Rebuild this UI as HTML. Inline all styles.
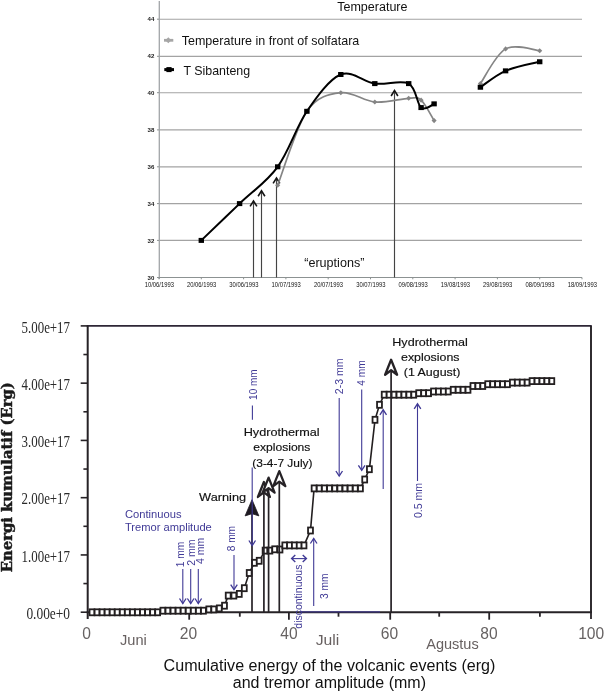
<!DOCTYPE html>
<html><head><meta charset="utf-8"><title>Temperature and cumulative energy</title><style>
html,body{margin:0;padding:0;background:#fff;overflow:hidden;}
svg{display:block;}
text{font-family:"Liberation Sans",Arial,sans-serif;}
.yt{font-size:5.6px;fill:#1a1a1a;font-weight:bold;}
.xt{font-size:5.8px;fill:#111;}
.lg{font-size:12.5px;fill:#111;}
.yl{font-family:"Liberation Serif","Times New Roman",serif;font-size:13px;fill:#2a2a2a;}
.xl{font-size:15.6px;fill:#666262;}
.mo{font-size:15px;fill:#676060;}
.tt{font-size:16px;fill:#111;}
.yt2{font-family:"DejaVu Serif",serif;font-weight:bold;font-size:14.5px;fill:#1a1a1a;stroke:#1a1a1a;stroke-width:0.45px;}
.bl{font-size:11px;fill:#403a96;}
.bt{font-size:10.3px;fill:#403a96;}
.an{font-size:12.3px;fill:#111;stroke:#111;stroke-width:0.18px;}
</style></head><body>
<svg width="610" height="692" viewBox="0 0 610 692">
<rect width="610" height="692" fill="#fff"/>
<line x1="159" y1="240.4" x2="582" y2="240.4" stroke="#a3a3a3" stroke-width="1.15"/>
<line x1="159" y1="203.6" x2="582" y2="203.6" stroke="#a3a3a3" stroke-width="1.15"/>
<line x1="159" y1="166.8" x2="582" y2="166.8" stroke="#a3a3a3" stroke-width="1.15"/>
<line x1="159" y1="129.9" x2="582" y2="129.9" stroke="#a3a3a3" stroke-width="1.15"/>
<line x1="159" y1="92.7" x2="582" y2="92.7" stroke="#a3a3a3" stroke-width="1.15"/>
<line x1="159" y1="56.3" x2="582" y2="56.3" stroke="#a3a3a3" stroke-width="1.15"/>
<line x1="159" y1="19.2" x2="582" y2="19.2" stroke="#a3a3a3" stroke-width="1.15"/>
<line x1="159.3" y1="1" x2="159.3" y2="279" stroke="#a2a5a8" stroke-width="1.3"/>
<line x1="157" y1="277.5" x2="582" y2="277.5" stroke="#8c9292" stroke-width="1.1"/>
<line x1="157" y1="277.5" x2="159" y2="277.5" stroke="#8c9292" stroke-width="1"/>
<text transform="translate(154.3 279.6)" class="yt" text-anchor="end" textLength="6.8" lengthAdjust="spacingAndGlyphs">30</text>
<line x1="157" y1="240.4" x2="159" y2="240.4" stroke="#8c9292" stroke-width="1"/>
<text transform="translate(154.3 242.5)" class="yt" text-anchor="end" textLength="6.8" lengthAdjust="spacingAndGlyphs">32</text>
<line x1="157" y1="203.6" x2="159" y2="203.6" stroke="#8c9292" stroke-width="1"/>
<text transform="translate(154.3 205.7)" class="yt" text-anchor="end" textLength="6.8" lengthAdjust="spacingAndGlyphs">34</text>
<line x1="157" y1="166.8" x2="159" y2="166.8" stroke="#8c9292" stroke-width="1"/>
<text transform="translate(154.3 168.9)" class="yt" text-anchor="end" textLength="6.8" lengthAdjust="spacingAndGlyphs">36</text>
<line x1="157" y1="129.9" x2="159" y2="129.9" stroke="#8c9292" stroke-width="1"/>
<text transform="translate(154.3 132)" class="yt" text-anchor="end" textLength="6.8" lengthAdjust="spacingAndGlyphs">38</text>
<line x1="157" y1="92.7" x2="159" y2="92.7" stroke="#8c9292" stroke-width="1"/>
<text transform="translate(154.3 94.8)" class="yt" text-anchor="end" textLength="6.8" lengthAdjust="spacingAndGlyphs">40</text>
<line x1="157" y1="56.3" x2="159" y2="56.3" stroke="#8c9292" stroke-width="1"/>
<text transform="translate(154.3 58.4)" class="yt" text-anchor="end" textLength="6.8" lengthAdjust="spacingAndGlyphs">42</text>
<line x1="157" y1="19.2" x2="159" y2="19.2" stroke="#8c9292" stroke-width="1"/>
<text transform="translate(154.3 21.3)" class="yt" text-anchor="end" textLength="6.8" lengthAdjust="spacingAndGlyphs">44</text>
<line x1="159" y1="277.5" x2="159" y2="279.3" stroke="#8c9292" stroke-width="1"/>
<text transform="translate(159.3 287) scale(1 1.1)" class="xt" text-anchor="middle" textLength="29.2" lengthAdjust="spacingAndGlyphs">10/06/1993</text>
<line x1="201.3" y1="277.5" x2="201.3" y2="279.3" stroke="#8c9292" stroke-width="1"/>
<text transform="translate(201.6 287) scale(1 1.1)" class="xt" text-anchor="middle" textLength="29.2" lengthAdjust="spacingAndGlyphs">20/06/1993</text>
<line x1="243.6" y1="277.5" x2="243.6" y2="279.3" stroke="#8c9292" stroke-width="1"/>
<text transform="translate(243.9 287) scale(1 1.1)" class="xt" text-anchor="middle" textLength="29.2" lengthAdjust="spacingAndGlyphs">30/06/1993</text>
<line x1="285.9" y1="277.5" x2="285.9" y2="279.3" stroke="#8c9292" stroke-width="1"/>
<text transform="translate(286.2 287) scale(1 1.1)" class="xt" text-anchor="middle" textLength="29.2" lengthAdjust="spacingAndGlyphs">10/07/1993</text>
<line x1="328.2" y1="277.5" x2="328.2" y2="279.3" stroke="#8c9292" stroke-width="1"/>
<text transform="translate(328.5 287) scale(1 1.1)" class="xt" text-anchor="middle" textLength="29.2" lengthAdjust="spacingAndGlyphs">20/07/1993</text>
<line x1="370.5" y1="277.5" x2="370.5" y2="279.3" stroke="#8c9292" stroke-width="1"/>
<text transform="translate(370.8 287) scale(1 1.1)" class="xt" text-anchor="middle" textLength="29.2" lengthAdjust="spacingAndGlyphs">30/07/1993</text>
<line x1="412.8" y1="277.5" x2="412.8" y2="279.3" stroke="#8c9292" stroke-width="1"/>
<text transform="translate(413.1 287) scale(1 1.1)" class="xt" text-anchor="middle" textLength="29.2" lengthAdjust="spacingAndGlyphs">09/08/1993</text>
<line x1="455.1" y1="277.5" x2="455.1" y2="279.3" stroke="#8c9292" stroke-width="1"/>
<text transform="translate(455.4 287) scale(1 1.1)" class="xt" text-anchor="middle" textLength="29.2" lengthAdjust="spacingAndGlyphs">19/08/1993</text>
<line x1="497.4" y1="277.5" x2="497.4" y2="279.3" stroke="#8c9292" stroke-width="1"/>
<text transform="translate(497.7 287) scale(1 1.1)" class="xt" text-anchor="middle" textLength="29.2" lengthAdjust="spacingAndGlyphs">29/08/1993</text>
<line x1="539.7" y1="277.5" x2="539.7" y2="279.3" stroke="#8c9292" stroke-width="1"/>
<text transform="translate(540 287) scale(1 1.1)" class="xt" text-anchor="middle" textLength="29.2" lengthAdjust="spacingAndGlyphs">08/09/1993</text>
<line x1="582" y1="277.5" x2="582" y2="279.3" stroke="#8c9292" stroke-width="1"/>
<text transform="translate(582.3 287) scale(1 1.1)" class="xt" text-anchor="middle" textLength="29.2" lengthAdjust="spacingAndGlyphs">18/09/1993</text>
<line x1="253.5" y1="201.5" x2="253.5" y2="277.5" stroke="#444" stroke-width="1.15"/><polyline points="250.1,206.4 253.5,201 256.9,206.4" fill="none" stroke="#151515" stroke-width="1.6"/>
<line x1="261.5" y1="191.3" x2="261.5" y2="277.5" stroke="#444" stroke-width="1.15"/><polyline points="258.1,196.2 261.5,190.8 264.9,196.2" fill="none" stroke="#151515" stroke-width="1.6"/>
<line x1="276.5" y1="178.5" x2="276.5" y2="277.5" stroke="#444" stroke-width="1.15"/><polyline points="273.1,183.4 276.5,178 279.9,183.4" fill="none" stroke="#151515" stroke-width="1.6"/>
<line x1="394.5" y1="91.05" x2="394.5" y2="277.5" stroke="#444" stroke-width="1.15"/><polyline points="391.1,95.95 394.5,90.55 397.9,95.95" fill="none" stroke="#151515" stroke-width="1.6"/>
<path d="M277.7,185.2 C282.57,172.88 296.38,126.72 306.9,111.3 C317.42,95.88 329.48,94.25 340.8,92.7 C352.12,91.15 363.48,101.07 374.8,102 C386.12,102.93 400.98,98.59 408.7,98.28 C416.42,97.97 416.87,96.42 421.1,100.14 C425.33,103.86 431.93,117.19 434.1,120.6" fill="none" stroke="#858585" stroke-width="1.7"/>
<rect x="275.9" y="183.4" width="3.6" height="3.6" fill="#858585" transform="rotate(45 277.7 185.2)"/>
<rect x="305.1" y="109.5" width="3.6" height="3.6" fill="#858585" transform="rotate(45 306.9 111.3)"/>
<rect x="339" y="90.9" width="3.6" height="3.6" fill="#858585" transform="rotate(45 340.8 92.7)"/>
<rect x="373" y="100.2" width="3.6" height="3.6" fill="#858585" transform="rotate(45 374.8 102)"/>
<rect x="406.9" y="96.48" width="3.6" height="3.6" fill="#858585" transform="rotate(45 408.7 98.28)"/>
<rect x="419.3" y="98.34" width="3.6" height="3.6" fill="#858585" transform="rotate(45 421.1 100.14)"/>
<rect x="432.3" y="118.8" width="3.6" height="3.6" fill="#858585" transform="rotate(45 434.1 120.6)"/>
<path d="M480.4,83.6 C484.6,77.81 495.72,54.36 505.6,48.88 C515.48,43.4 534.02,50.43 539.7,50.74" fill="none" stroke="#858585" stroke-width="1.7"/>
<rect x="478.6" y="81.8" width="3.6" height="3.6" fill="#858585" transform="rotate(45 480.4 83.6)"/>
<rect x="503.8" y="47.08" width="3.6" height="3.6" fill="#858585" transform="rotate(45 505.6 48.88)"/>
<rect x="537.9" y="48.94" width="3.6" height="3.6" fill="#858585" transform="rotate(45 539.7 50.74)"/>
<path d="M201.3,240.4 C207.68,234.27 226.87,215.87 239.6,203.6 C252.33,191.33 266.48,182.18 277.7,166.8 C288.92,151.42 296.38,126.68 306.9,111.3 C317.42,95.92 329.48,79.12 340.8,74.5 C352.12,69.88 363.48,82.08 374.8,83.6 C386.12,85.12 400.98,79.6 408.7,83.6 C416.42,87.6 416.87,104.2 421.1,107.58 C425.33,110.96 431.93,104.48 434.1,103.86" fill="none" stroke="#000" stroke-width="2.0"/>
<rect x="198.6" y="237.9" width="5.4" height="5" fill="#000"/>
<rect x="236.9" y="201.1" width="5.4" height="5" fill="#000"/>
<rect x="275" y="164.3" width="5.4" height="5" fill="#000"/>
<rect x="304.2" y="108.8" width="5.4" height="5" fill="#000"/>
<rect x="338.1" y="72" width="5.4" height="5" fill="#000"/>
<rect x="372.1" y="81.1" width="5.4" height="5" fill="#000"/>
<rect x="406" y="81.1" width="5.4" height="5" fill="#000"/>
<rect x="418.4" y="105.08" width="5.4" height="5" fill="#000"/>
<rect x="431.4" y="101.36" width="5.4" height="5" fill="#000"/>
<path d="M480.4,87.24 C484.6,84.51 495.72,75.11 505.6,70.86 C515.48,66.61 534.02,63.28 539.7,61.76" fill="none" stroke="#000" stroke-width="2.0"/>
<rect x="477.7" y="84.74" width="5.4" height="5" fill="#000"/>
<rect x="502.9" y="68.36" width="5.4" height="5" fill="#000"/>
<rect x="537" y="59.26" width="5.4" height="5" fill="#000"/>
<line x1="164" y1="40.3" x2="173.3" y2="40.3" stroke="#a6a6a6" stroke-width="2.8"/>
<rect x="166.2" y="38.2" width="4.2" height="4.2" fill="#a6a6a6" transform="rotate(45 168.3 40.3)"/>
<line x1="164.3" y1="69.6" x2="174" y2="69.6" stroke="#000" stroke-width="3"/>
<rect x="166.4" y="67.1" width="5.2" height="5" fill="#000"/>
<text transform="translate(181.7 45.2) scale(1 1.04)" class="lg" textLength="177.6" lengthAdjust="spacingAndGlyphs">Temperature in front of solfatara</text>
<text transform="translate(183.4 75.3) scale(1 1.04)" class="lg" textLength="66.8" lengthAdjust="spacingAndGlyphs">T Sibanteng</text>
<text transform="translate(337.2 11.1)" class="lg" textLength="70.3" lengthAdjust="spacingAndGlyphs">Temperature</text>
<text transform="translate(304.2 267)" class="lg" textLength="60.2" lengthAdjust="spacingAndGlyphs">“eruptions”</text>
<line x1="86.7" y1="325.9" x2="591.8" y2="325.9" stroke="#2e2636" stroke-width="1.6"/>
<line x1="87.7" y1="325.9" x2="87.7" y2="612.2" stroke="#262226" stroke-width="2"/>
<line x1="591.0" y1="325.9" x2="591.0" y2="612.2" stroke="#262226" stroke-width="1.9"/>
<line x1="86.7" y1="612.2" x2="592" y2="612.2" stroke="#262226" stroke-width="2"/>
<line x1="87.7" y1="612.2" x2="87.7" y2="619" stroke="#262226" stroke-width="2"/>
<line x1="80.7" y1="612.2" x2="87.7" y2="612.2" stroke="#262226" stroke-width="1.6"/>
<line x1="83.4" y1="583.57" x2="87.7" y2="583.57" stroke="#262226" stroke-width="1.6"/>
<line x1="80.7" y1="554.94" x2="87.7" y2="554.94" stroke="#262226" stroke-width="1.6"/>
<line x1="83.4" y1="526.31" x2="87.7" y2="526.31" stroke="#262226" stroke-width="1.6"/>
<line x1="80.7" y1="497.68" x2="87.7" y2="497.68" stroke="#262226" stroke-width="1.6"/>
<line x1="83.4" y1="469.05" x2="87.7" y2="469.05" stroke="#262226" stroke-width="1.6"/>
<line x1="80.7" y1="440.42" x2="87.7" y2="440.42" stroke="#262226" stroke-width="1.6"/>
<line x1="83.4" y1="411.79" x2="87.7" y2="411.79" stroke="#262226" stroke-width="1.6"/>
<line x1="80.7" y1="383.16" x2="87.7" y2="383.16" stroke="#262226" stroke-width="1.6"/>
<line x1="83.4" y1="354.53" x2="87.7" y2="354.53" stroke="#262226" stroke-width="1.6"/>
<line x1="80.7" y1="325.9" x2="87.7" y2="325.9" stroke="#262226" stroke-width="1.6"/>
<text transform="translate(70 619) scale(1 1.24)" class="yl" text-anchor="end" textLength="43.6" lengthAdjust="spacingAndGlyphs">0.00e+0</text>
<text transform="translate(70 561.74) scale(1 1.24)" class="yl" text-anchor="end" textLength="48.4" lengthAdjust="spacingAndGlyphs">1.00e+17</text>
<text transform="translate(70 504.48) scale(1 1.24)" class="yl" text-anchor="end" textLength="48.4" lengthAdjust="spacingAndGlyphs">2.00e+17</text>
<text transform="translate(70 447.22) scale(1 1.24)" class="yl" text-anchor="end" textLength="48.4" lengthAdjust="spacingAndGlyphs">3.00e+17</text>
<text transform="translate(70 389.96) scale(1 1.24)" class="yl" text-anchor="end" textLength="48.4" lengthAdjust="spacingAndGlyphs">4.00e+17</text>
<text transform="translate(70 332.7) scale(1 1.24)" class="yl" text-anchor="end" textLength="48.4" lengthAdjust="spacingAndGlyphs">5.00e+17</text>
<line x1="189.2" y1="612.2" x2="189.2" y2="619.7" stroke="#262226" stroke-width="1.8"/>
<line x1="239.8" y1="612.2" x2="239.8" y2="616.7" stroke="#262226" stroke-width="1.8"/>
<line x1="288.9" y1="612.2" x2="288.9" y2="619.7" stroke="#262226" stroke-width="1.8"/>
<line x1="338.5" y1="612.2" x2="338.5" y2="616.7" stroke="#262226" stroke-width="1.8"/>
<line x1="390.2" y1="612.2" x2="390.2" y2="619.7" stroke="#262226" stroke-width="1.8"/>
<line x1="439.2" y1="612.2" x2="439.2" y2="616.7" stroke="#262226" stroke-width="1.8"/>
<line x1="489.2" y1="612.2" x2="489.2" y2="619.7" stroke="#262226" stroke-width="1.8"/>
<line x1="539.9" y1="612.2" x2="539.9" y2="616.7" stroke="#262226" stroke-width="1.8"/>
<line x1="591.0" y1="612.2" x2="591.0" y2="619" stroke="#262226" stroke-width="1.8"/>
<text transform="translate(86.7 638.7) scale(1 1.09)" class="xl" text-anchor="middle">0</text>
<text transform="translate(188.5 638.7) scale(1 1.09)" class="xl" text-anchor="middle">20</text>
<text transform="translate(289 638.7) scale(1 1.09)" class="xl" text-anchor="middle">40</text>
<text transform="translate(389.4 638.7) scale(1 1.09)" class="xl" text-anchor="middle">60</text>
<text transform="translate(489 638.7) scale(1 1.09)" class="xl" text-anchor="middle">80</text>
<text transform="translate(591.2 638.7) scale(1 1.09)" class="xl" text-anchor="middle">100</text>
<text transform="translate(120 645)" class="mo" textLength="26.8" lengthAdjust="spacingAndGlyphs">Juni</text>
<text transform="translate(315.7 644.8)" class="mo" textLength="23.6" lengthAdjust="spacingAndGlyphs">Juli</text>
<text transform="translate(426.2 648.9)" class="mo" textLength="52.5" lengthAdjust="spacingAndGlyphs">Agustus</text>
<text transform="translate(163.6 670.7)" class="tt" textLength="331.8" lengthAdjust="spacingAndGlyphs">Cumulative energy of the volcanic events (erg)</text>
<text transform="translate(232.8 688.2)" class="tt" textLength="193.2" lengthAdjust="spacingAndGlyphs">and tremor amplitude (mm)</text>
<text transform="translate(12.2 572.2) rotate(-90)" class="yt2" textLength="190" lengthAdjust="spacingAndGlyphs">Energi kumulatif (Erg)</text>
<line x1="299" y1="611.9" x2="380" y2="611.9" stroke="#403a96" stroke-width="1.3" opacity="0.85"/>
<path d="M92,612.3 L97.05,612.3 L102.1,612.3 L107.15,612.3 L112.2,612.3 L117.25,612.3 L122.3,612.3 L127.35,612.3 L132.4,612.3 L137.45,612.3 L142.5,612.3 L147.55,612.3 L152.6,612.3 L157.65,612.3 L162.9,610.7 L167.97,610.7 L173.04,610.7 L178.11,610.7 L183.18,610.7 L188.25,610.7 L193.32,610.7 L198.39,610.7 L203.46,610.7 L208.8,609.4 L213.8,609.4 L219.3,608.4 L224.5,605.7 L228.2,595.6 L233.9,595.6 L239.3,593.9 L244.3,588.2 L249.2,573 L254.4,562.8 L259.2,560.8 L265.1,550.6 L269.9,550.6 L274.7,549.3 L280,549.5 L284.8,545.4 L289.5,545.4 L294.4,545.4 L299.2,545.4 L304,545.4 L310.5,530.5 L314.1,488.4 L319.25,488.4 L324.4,488.4 L329.55,488.4 L334.7,488.4 L339.85,488.4 L345,488.4 L350.15,488.4 L355.3,488.4 L360.45,488.4 L364.7,479.5 L369.4,469.2 L375,419.8 L379.5,404.8 L384.2,394.7 L389.13,394.7 L394.06,394.7 L398.99,394.7 L403.92,394.7 L408.85,394.7 L413.78,394.7 L418.71,393.2 L423.64,393.2 L428.57,393.2 L433.5,391.5 L438.43,391.5 L443.36,391.5 L448.29,391.5 L453.22,389.8 L458.15,389.8 L463.08,389.8 L468.01,389.8 L472.94,386 L477.87,386 L482.8,386 L487.73,384.2 L492.66,384.2 L497.59,384.2 L502.52,384.2 L507.45,384.2 L512.38,382.6 L517.31,382.6 L522.24,382.6 L527.17,382.6 L532.1,381.1 L537.03,381.1 L541.96,381.1 L546.89,381.1 L551.82,381.1" fill="none" stroke="#231f20" stroke-width="1.6"/>
<rect x="89.55" y="609.3" width="4.9" height="6.0" fill="#fff" stroke="#231f20" stroke-width="1.8"/>
<rect x="94.6" y="609.3" width="4.9" height="6.0" fill="#fff" stroke="#231f20" stroke-width="1.8"/>
<rect x="99.65" y="609.3" width="4.9" height="6.0" fill="#fff" stroke="#231f20" stroke-width="1.8"/>
<rect x="104.7" y="609.3" width="4.9" height="6.0" fill="#fff" stroke="#231f20" stroke-width="1.8"/>
<rect x="109.75" y="609.3" width="4.9" height="6.0" fill="#fff" stroke="#231f20" stroke-width="1.8"/>
<rect x="114.8" y="609.3" width="4.9" height="6.0" fill="#fff" stroke="#231f20" stroke-width="1.8"/>
<rect x="119.85" y="609.3" width="4.9" height="6.0" fill="#fff" stroke="#231f20" stroke-width="1.8"/>
<rect x="124.9" y="609.3" width="4.9" height="6.0" fill="#fff" stroke="#231f20" stroke-width="1.8"/>
<rect x="129.95" y="609.3" width="4.9" height="6.0" fill="#fff" stroke="#231f20" stroke-width="1.8"/>
<rect x="135" y="609.3" width="4.9" height="6.0" fill="#fff" stroke="#231f20" stroke-width="1.8"/>
<rect x="140.05" y="609.3" width="4.9" height="6.0" fill="#fff" stroke="#231f20" stroke-width="1.8"/>
<rect x="145.1" y="609.3" width="4.9" height="6.0" fill="#fff" stroke="#231f20" stroke-width="1.8"/>
<rect x="150.15" y="609.3" width="4.9" height="6.0" fill="#fff" stroke="#231f20" stroke-width="1.8"/>
<rect x="155.2" y="609.3" width="4.9" height="6.0" fill="#fff" stroke="#231f20" stroke-width="1.8"/>
<rect x="160.45" y="607.7" width="4.9" height="6.0" fill="#fff" stroke="#231f20" stroke-width="1.8"/>
<rect x="165.52" y="607.7" width="4.9" height="6.0" fill="#fff" stroke="#231f20" stroke-width="1.8"/>
<rect x="170.59" y="607.7" width="4.9" height="6.0" fill="#fff" stroke="#231f20" stroke-width="1.8"/>
<rect x="175.66" y="607.7" width="4.9" height="6.0" fill="#fff" stroke="#231f20" stroke-width="1.8"/>
<rect x="180.73" y="607.7" width="4.9" height="6.0" fill="#fff" stroke="#231f20" stroke-width="1.8"/>
<rect x="185.8" y="607.7" width="4.9" height="6.0" fill="#fff" stroke="#231f20" stroke-width="1.8"/>
<rect x="190.87" y="607.7" width="4.9" height="6.0" fill="#fff" stroke="#231f20" stroke-width="1.8"/>
<rect x="195.94" y="607.7" width="4.9" height="6.0" fill="#fff" stroke="#231f20" stroke-width="1.8"/>
<rect x="201.01" y="607.7" width="4.9" height="6.0" fill="#fff" stroke="#231f20" stroke-width="1.8"/>
<rect x="206.35" y="606.4" width="4.9" height="6.0" fill="#fff" stroke="#231f20" stroke-width="1.8"/>
<rect x="211.35" y="606.4" width="4.9" height="6.0" fill="#fff" stroke="#231f20" stroke-width="1.8"/>
<rect x="216.85" y="605.4" width="4.9" height="6.0" fill="#fff" stroke="#231f20" stroke-width="1.8"/>
<rect x="222.05" y="602.7" width="4.9" height="6.0" fill="#fff" stroke="#231f20" stroke-width="1.8"/>
<rect x="225.75" y="592.6" width="4.9" height="6.0" fill="#fff" stroke="#231f20" stroke-width="1.8"/>
<rect x="231.45" y="592.6" width="4.9" height="6.0" fill="#fff" stroke="#231f20" stroke-width="1.8"/>
<rect x="236.85" y="590.9" width="4.9" height="6.0" fill="#fff" stroke="#231f20" stroke-width="1.8"/>
<rect x="241.85" y="585.2" width="4.9" height="6.0" fill="#fff" stroke="#231f20" stroke-width="1.8"/>
<rect x="246.75" y="570" width="4.9" height="6.0" fill="#fff" stroke="#231f20" stroke-width="1.8"/>
<rect x="251.95" y="559.8" width="4.9" height="6.0" fill="#fff" stroke="#231f20" stroke-width="1.8"/>
<rect x="256.75" y="557.8" width="4.9" height="6.0" fill="#fff" stroke="#231f20" stroke-width="1.8"/>
<rect x="262.65" y="547.6" width="4.9" height="6.0" fill="#fff" stroke="#231f20" stroke-width="1.8"/>
<rect x="267.45" y="547.6" width="4.9" height="6.0" fill="#fff" stroke="#231f20" stroke-width="1.8"/>
<rect x="272.25" y="546.3" width="4.9" height="6.0" fill="#fff" stroke="#231f20" stroke-width="1.8"/>
<rect x="277.55" y="546.5" width="4.9" height="6.0" fill="#fff" stroke="#231f20" stroke-width="1.8"/>
<rect x="282.35" y="542.4" width="4.9" height="6.0" fill="#fff" stroke="#231f20" stroke-width="1.8"/>
<rect x="287.05" y="542.4" width="4.9" height="6.0" fill="#fff" stroke="#231f20" stroke-width="1.8"/>
<rect x="291.95" y="542.4" width="4.9" height="6.0" fill="#fff" stroke="#231f20" stroke-width="1.8"/>
<rect x="296.75" y="542.4" width="4.9" height="6.0" fill="#fff" stroke="#231f20" stroke-width="1.8"/>
<rect x="301.55" y="542.4" width="4.9" height="6.0" fill="#fff" stroke="#231f20" stroke-width="1.8"/>
<rect x="308.05" y="527.5" width="4.9" height="6.0" fill="#fff" stroke="#231f20" stroke-width="1.8"/>
<rect x="311.65" y="485.4" width="4.9" height="6.0" fill="#fff" stroke="#231f20" stroke-width="1.8"/>
<rect x="316.8" y="485.4" width="4.9" height="6.0" fill="#fff" stroke="#231f20" stroke-width="1.8"/>
<rect x="321.95" y="485.4" width="4.9" height="6.0" fill="#fff" stroke="#231f20" stroke-width="1.8"/>
<rect x="327.1" y="485.4" width="4.9" height="6.0" fill="#fff" stroke="#231f20" stroke-width="1.8"/>
<rect x="332.25" y="485.4" width="4.9" height="6.0" fill="#fff" stroke="#231f20" stroke-width="1.8"/>
<rect x="337.4" y="485.4" width="4.9" height="6.0" fill="#fff" stroke="#231f20" stroke-width="1.8"/>
<rect x="342.55" y="485.4" width="4.9" height="6.0" fill="#fff" stroke="#231f20" stroke-width="1.8"/>
<rect x="347.7" y="485.4" width="4.9" height="6.0" fill="#fff" stroke="#231f20" stroke-width="1.8"/>
<rect x="352.85" y="485.4" width="4.9" height="6.0" fill="#fff" stroke="#231f20" stroke-width="1.8"/>
<rect x="358" y="485.4" width="4.9" height="6.0" fill="#fff" stroke="#231f20" stroke-width="1.8"/>
<rect x="362.25" y="476.5" width="4.9" height="6.0" fill="#fff" stroke="#231f20" stroke-width="1.8"/>
<rect x="366.95" y="466.2" width="4.9" height="6.0" fill="#fff" stroke="#231f20" stroke-width="1.8"/>
<rect x="372.55" y="416.8" width="4.9" height="6.0" fill="#fff" stroke="#231f20" stroke-width="1.8"/>
<rect x="377.05" y="401.8" width="4.9" height="6.0" fill="#fff" stroke="#231f20" stroke-width="1.8"/>
<rect x="381.75" y="391.7" width="4.9" height="6.0" fill="#fff" stroke="#231f20" stroke-width="1.8"/>
<rect x="386.68" y="391.7" width="4.9" height="6.0" fill="#fff" stroke="#231f20" stroke-width="1.8"/>
<rect x="391.61" y="391.7" width="4.9" height="6.0" fill="#fff" stroke="#231f20" stroke-width="1.8"/>
<rect x="396.54" y="391.7" width="4.9" height="6.0" fill="#fff" stroke="#231f20" stroke-width="1.8"/>
<rect x="401.47" y="391.7" width="4.9" height="6.0" fill="#fff" stroke="#231f20" stroke-width="1.8"/>
<rect x="406.4" y="391.7" width="4.9" height="6.0" fill="#fff" stroke="#231f20" stroke-width="1.8"/>
<rect x="411.33" y="391.7" width="4.9" height="6.0" fill="#fff" stroke="#231f20" stroke-width="1.8"/>
<rect x="416.26" y="390.2" width="4.9" height="6.0" fill="#fff" stroke="#231f20" stroke-width="1.8"/>
<rect x="421.19" y="390.2" width="4.9" height="6.0" fill="#fff" stroke="#231f20" stroke-width="1.8"/>
<rect x="426.12" y="390.2" width="4.9" height="6.0" fill="#fff" stroke="#231f20" stroke-width="1.8"/>
<rect x="431.05" y="388.5" width="4.9" height="6.0" fill="#fff" stroke="#231f20" stroke-width="1.8"/>
<rect x="435.98" y="388.5" width="4.9" height="6.0" fill="#fff" stroke="#231f20" stroke-width="1.8"/>
<rect x="440.91" y="388.5" width="4.9" height="6.0" fill="#fff" stroke="#231f20" stroke-width="1.8"/>
<rect x="445.84" y="388.5" width="4.9" height="6.0" fill="#fff" stroke="#231f20" stroke-width="1.8"/>
<rect x="450.77" y="386.8" width="4.9" height="6.0" fill="#fff" stroke="#231f20" stroke-width="1.8"/>
<rect x="455.7" y="386.8" width="4.9" height="6.0" fill="#fff" stroke="#231f20" stroke-width="1.8"/>
<rect x="460.63" y="386.8" width="4.9" height="6.0" fill="#fff" stroke="#231f20" stroke-width="1.8"/>
<rect x="465.56" y="386.8" width="4.9" height="6.0" fill="#fff" stroke="#231f20" stroke-width="1.8"/>
<rect x="470.49" y="383" width="4.9" height="6.0" fill="#fff" stroke="#231f20" stroke-width="1.8"/>
<rect x="475.42" y="383" width="4.9" height="6.0" fill="#fff" stroke="#231f20" stroke-width="1.8"/>
<rect x="480.35" y="383" width="4.9" height="6.0" fill="#fff" stroke="#231f20" stroke-width="1.8"/>
<rect x="485.28" y="381.2" width="4.9" height="6.0" fill="#fff" stroke="#231f20" stroke-width="1.8"/>
<rect x="490.21" y="381.2" width="4.9" height="6.0" fill="#fff" stroke="#231f20" stroke-width="1.8"/>
<rect x="495.14" y="381.2" width="4.9" height="6.0" fill="#fff" stroke="#231f20" stroke-width="1.8"/>
<rect x="500.07" y="381.2" width="4.9" height="6.0" fill="#fff" stroke="#231f20" stroke-width="1.8"/>
<rect x="505" y="381.2" width="4.9" height="6.0" fill="#fff" stroke="#231f20" stroke-width="1.8"/>
<rect x="509.93" y="379.6" width="4.9" height="6.0" fill="#fff" stroke="#231f20" stroke-width="1.8"/>
<rect x="514.86" y="379.6" width="4.9" height="6.0" fill="#fff" stroke="#231f20" stroke-width="1.8"/>
<rect x="519.79" y="379.6" width="4.9" height="6.0" fill="#fff" stroke="#231f20" stroke-width="1.8"/>
<rect x="524.72" y="379.6" width="4.9" height="6.0" fill="#fff" stroke="#231f20" stroke-width="1.8"/>
<rect x="529.65" y="378.1" width="4.9" height="6.0" fill="#fff" stroke="#231f20" stroke-width="1.8"/>
<rect x="534.58" y="378.1" width="4.9" height="6.0" fill="#fff" stroke="#231f20" stroke-width="1.8"/>
<rect x="539.51" y="378.1" width="4.9" height="6.0" fill="#fff" stroke="#231f20" stroke-width="1.8"/>
<rect x="544.44" y="378.1" width="4.9" height="6.0" fill="#fff" stroke="#231f20" stroke-width="1.8"/>
<rect x="549.37" y="378.1" width="4.9" height="6.0" fill="#fff" stroke="#231f20" stroke-width="1.8"/>
<line x1="252" y1="513.7" x2="252" y2="612.2" stroke="#262226" stroke-width="1.7"/><polygon points="252,499.7 258.9,515.9 252,513.7 245.1,515.9" fill="#1e1a22" stroke="#1e1a22" stroke-width="0.8" stroke-linejoin="round"/>
<line x1="263.9" y1="492.45" x2="263.9" y2="612.2" stroke="#262226" stroke-width="1.7"/><polygon points="263.9,481.95 269.9,496.95 263.9,492.45 257.9,496.95" fill="#fff" stroke="#262226" stroke-width="2.3" stroke-linejoin="round"/>
<line x1="268.6" y1="488.15" x2="268.6" y2="612.2" stroke="#262226" stroke-width="1.7"/><polygon points="268.6,477.65 274.6,492.65 268.6,488.15 262.6,492.65" fill="#fff" stroke="#262226" stroke-width="2.3" stroke-linejoin="round"/>
<line x1="279.3" y1="481.65" x2="279.3" y2="612.2" stroke="#262226" stroke-width="1.7"/><polygon points="279.3,471.15 285.3,486.15 279.3,481.65 273.3,486.15" fill="#fff" stroke="#262226" stroke-width="2.3" stroke-linejoin="round"/>
<line x1="391.1" y1="370.25" x2="391.1" y2="612.2" stroke="#262226" stroke-width="1.7"/><polygon points="391.1,359.75 397.1,374.75 391.1,370.25 385.1,374.75" fill="#fff" stroke="#262226" stroke-width="2.3" stroke-linejoin="round"/>
<text transform="translate(124.9 517.8)" class="bl" textLength="56.6" lengthAdjust="spacingAndGlyphs">Continuous</text>
<text transform="translate(124.9 530.7)" class="bl" textLength="86.9" lengthAdjust="spacingAndGlyphs">Tremor amplitude</text>
<text transform="translate(184.2 567.3) rotate(-90)" class="bt" textLength="25.4" lengthAdjust="spacingAndGlyphs">1 mm</text>
<line x1="182.8" y1="569" x2="182.8" y2="603.5" stroke="#403a96" stroke-width="1.1"/><polyline points="179.5,598.5 182.8,603.5 186.1,598.5" fill="none" stroke="#403a96" stroke-width="1.32"/>
<text transform="translate(195.2 565.7) rotate(-90)" class="bt" textLength="26.3" lengthAdjust="spacingAndGlyphs">2 mm</text>
<line x1="190.7" y1="569" x2="190.7" y2="603.5" stroke="#403a96" stroke-width="1.1"/><polyline points="187.4,598.5 190.7,603.5 194,598.5" fill="none" stroke="#403a96" stroke-width="1.32"/>
<text transform="translate(204 564) rotate(-90)" class="bt" textLength="26.2" lengthAdjust="spacingAndGlyphs">4 mm</text>
<line x1="198.3" y1="569" x2="198.3" y2="603.5" stroke="#403a96" stroke-width="1.1"/><polyline points="195,598.5 198.3,603.5 201.6,598.5" fill="none" stroke="#403a96" stroke-width="1.32"/>
<text transform="translate(234.5 551.3) rotate(-90)" class="bt" textLength="25.3" lengthAdjust="spacingAndGlyphs">8 mm</text>
<line x1="234" y1="555" x2="234" y2="589.6" stroke="#403a96" stroke-width="1.1"/><polyline points="230.7,584.6 234,589.6 237.3,584.6" fill="none" stroke="#403a96" stroke-width="1.32"/>
<text transform="translate(256.7 399.9) rotate(-90)" class="bt" textLength="30.4" lengthAdjust="spacingAndGlyphs">10 mm</text>
<line x1="252.4" y1="405.4" x2="252.4" y2="419.8" stroke="#403a96" stroke-width="1.1"/>
<line x1="252.2" y1="467.5" x2="252.2" y2="545.5" stroke="#403a96" stroke-width="1.1"/><polyline points="248.9,540.5 252.2,545.5 255.5,540.5" fill="none" stroke="#403a96" stroke-width="1.32"/>
<text transform="translate(302.4 628.7) rotate(-90)" class="bt" textLength="64.1" lengthAdjust="spacingAndGlyphs">discontinuous</text>
<line x1="292" y1="558.6" x2="306" y2="558.6" stroke="#403a96" stroke-width="1.1"/>
<polyline points="295.3,555.1 291.6,558.6 295.3,562.1" fill="none" stroke="#403a96" stroke-width="1.4"/>
<polyline points="302.7,555.1 306.4,558.6 302.7,562.1" fill="none" stroke="#403a96" stroke-width="1.4"/>
<text transform="translate(328.2 599) rotate(-90)" class="bt" textLength="25.6" lengthAdjust="spacingAndGlyphs">3 mm</text>
<line x1="313.7" y1="538.5" x2="313.7" y2="606" stroke="#403a96" stroke-width="1.1"/><polyline points="310.4,543.5 313.7,538.5 317,543.5" fill="none" stroke="#403a96" stroke-width="1.32"/>
<text transform="translate(343.2 394.2) rotate(-90)" class="bt" textLength="35.7" lengthAdjust="spacingAndGlyphs">2-3 mm</text>
<line x1="339.2" y1="397.9" x2="339.2" y2="476" stroke="#403a96" stroke-width="1.1"/><polyline points="335.9,471 339.2,476 342.5,471" fill="none" stroke="#403a96" stroke-width="1.32"/>
<text transform="translate(365.2 385.7) rotate(-90)" class="bt" textLength="25.4" lengthAdjust="spacingAndGlyphs">4 mm</text>
<line x1="361.7" y1="389.5" x2="361.7" y2="470.3" stroke="#403a96" stroke-width="1.1"/><polyline points="358.4,465.3 361.7,470.3 365,465.3" fill="none" stroke="#403a96" stroke-width="1.32"/>
<line x1="383.2" y1="409.8" x2="383.2" y2="489" stroke="#403a96" stroke-width="1.1"/><polyline points="379.9,414.8 383.2,409.8 386.5,414.8" fill="none" stroke="#403a96" stroke-width="1.32"/>
<text transform="translate(422.3 518) rotate(-90)" class="bt" textLength="35.1" lengthAdjust="spacingAndGlyphs">0.5 mm</text>
<line x1="417.5" y1="403.8" x2="417.5" y2="481" stroke="#403a96" stroke-width="1.1"/><polyline points="414.2,408.8 417.5,403.8 420.8,408.8" fill="none" stroke="#403a96" stroke-width="1.32"/>
<text transform="translate(199.1 501.2) scale(1 0.9)" class="an" textLength="47" lengthAdjust="spacingAndGlyphs">Warning</text>
<text transform="translate(243.7 435.9) scale(1 0.9)" class="an" textLength="75.9" lengthAdjust="spacingAndGlyphs">Hydrothermal</text>
<text transform="translate(253.2 451.4) scale(1 0.9)" class="an" textLength="57.2" lengthAdjust="spacingAndGlyphs">explosions</text>
<text transform="translate(252.3 467) scale(1 0.9)" class="an" textLength="60.2" lengthAdjust="spacingAndGlyphs">(3-4-7 July)</text>
<text transform="translate(392.3 346) scale(1 0.9)" class="an" textLength="75.4" lengthAdjust="spacingAndGlyphs">Hydrothermal</text>
<text transform="translate(401 360.7) scale(1 0.9)" class="an" textLength="58.5" lengthAdjust="spacingAndGlyphs">explosions</text>
<text transform="translate(403.8 376.1) scale(1 0.9)" class="an" textLength="56.5" lengthAdjust="spacingAndGlyphs">(1 August)</text>
</svg>
</body></html>
